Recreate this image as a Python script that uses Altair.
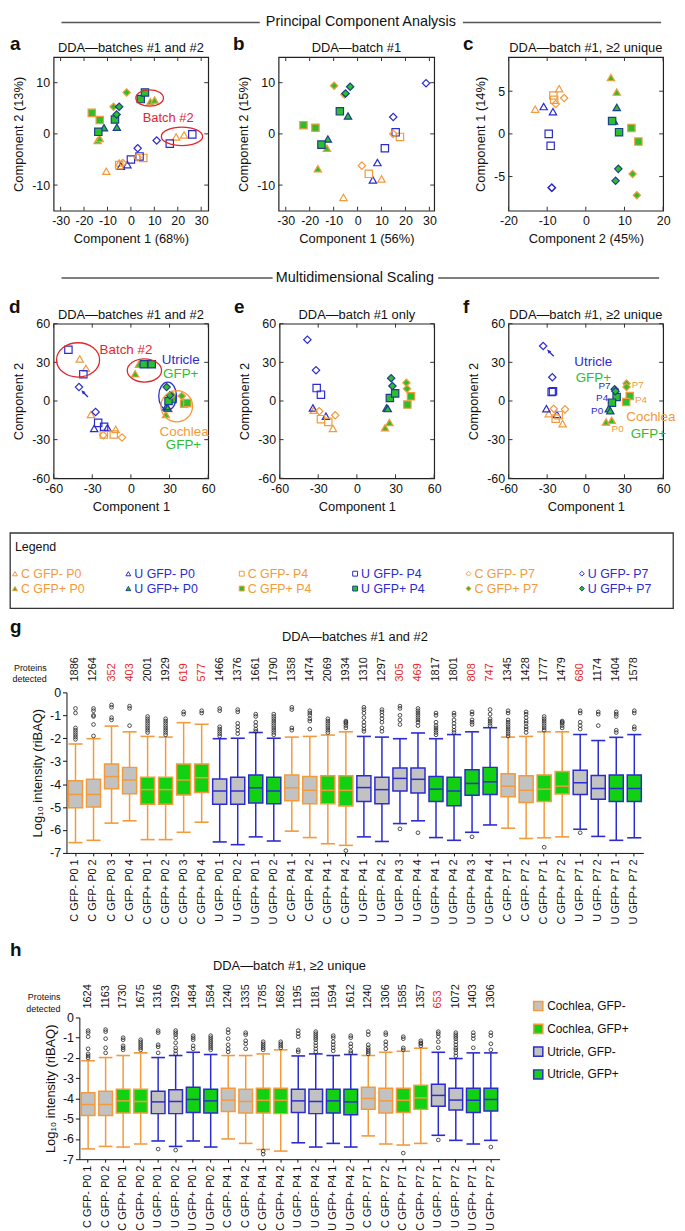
import altair as alt
import pandas as pd

FONT = "Liberation Sans"
ORANGE = "#F39A3B"
BLUE = "#2B2BCF"
NAVY = "#1D3F8F"
GREEN = "#2DBE2D"
BOXGREEN = "#12D012"
GRAY = "#C2C2C2"
RED = "#E3262C"
INK = "#111111"

# ---------------- groups (legend order) ----------------
GROUPS = ["C GFP- P0", "U GFP- P0", "C GFP- P4", "U GFP- P4", "C GFP- P7", "U GFP- P7",
          "C GFP+ P0", "U GFP+ P0", "C GFP+ P4", "U GFP+ P4", "C GFP+ P7", "U GFP+ P7"]

# ---------------- PCA / MDS scatter data (in GROUPS order) ----------------
a_counts = [4, 2, 2, 4, 2, 2, 4, 2, 2, 4, 2, 2]
a_x = [19.3, 22.7, -10.5, -5.0, -4.3, -1.5, 5.3, -5.0, 16.6, 26.2, 0.0, 3.7, 2.9, -3.5, 11.0, 2.9,
       -14.2, 8.3, 10.1, -13.3, -11.5, -6.0, -16.7, -13.3, -6.8, -13.9, 4.2, 6.0, -1.8, -7.4, -5.0, -6.1]
a_y = [-0.6, -0.2, -7.3, -5.7, -6.3, -6.0, -4.7, -6.1, -1.9, -0.1, -5.0, -4.4, -4.6, -5.7, -1.3, -2.8,
       -1.3, 6.3, 6.6, -0.9, 1.2, 1.3, 4.1, 2.7, 2.8, 0.4, 6.8, 8.1, 8.1, 5.3, 5.3, 3.8]

b_counts = [2] * 12
b_x = [10.0, -5.9, 8.3, 6.4, 17.7, 4.7, 15.9, 11.4, 14.9, 1.8, 28.6, 14.9,
       -12.8, -16.6, -4.0, -12.4, -22.6, -17.6, -7.4, -15.1, -9.8, -5.5, -3.1, -5.0]
b_y = [-8.8, -12.4, -5.6, -9.0, -0.6, -7.8, 0.3, -2.8, 0.0, -6.2, 9.9, 3.3,
       -2.8, -6.8, 3.5, -1.0, 1.7, 1.2, 4.4, -2.1, 9.4, 7.7, 9.2, 7.9]

c_counts = [2] * 12
c_x = [-13.1, -6.9, -10.9, -8.5, -8.4, -8.2, -9.6, -9.1, -5.6, -7.8, -8.8, -8.8,
       6.5, 8.0, 8.0, 7.3, 11.8, 13.6, 6.8, 8.6, 12.1, 13.2, 8.4, 7.7]
c_y = [2.9, 5.3, 3.2, 2.6, 4.5, 4.0, 0.0, -1.4, 4.2, 3.5, -6.3, -6.3,
       6.6, 4.9, 3.1, 1.5, 0.7, -0.9, 1.5, 0.2, -4.7, -7.2, -4.1, -5.5]

d_counts = [4, 2, 2, 4, 2, 2, 4, 2, 2, 4, 2, 2]
d_x = [-39.7, -34.9, -31.0, -11.8, -28.5, -18.2, -21.0, -13.3, -48.5, -36.9, -25.4, -20.8, -6.9, -21.5, -40.3, -27.4,
       6.2, 3.3, 27.2, 29.2, 27.4, 28.5, 41.3, 43.8, 10.0, 16.2, 32.3, 29.2, 39.5, 31.8, 27.7, 30.3]
d_y = [32.6, 25.4, -10.5, -22.1, -21.3, -20.8, -26.0, -26.0, 39.8, 20.8, -17.0, -20.0, -28.3, -26.5, 10.8, -8.5,
       28.5, 21.1, -10.5, -5.9, -4.6, -5.5, -2.1, -1.5, 28.5, 28.5, 1.5, 0.0, 3.9, 4.9, 10.8, 4.4]

e_counts = [2] * 12
e_x = [-33.5, -18.6, -34.1, -24.0, -27.9, -22.2, -31.2, -27.9, -29.2, -16.8, -38.4, -31.7,
       21.9, 25.3, 23.0, 24.0, 42.0, 39.2, 25.6, 29.7, 38.4, 38.9, 26.6, 27.6]
e_y = [-7.2, -21.3, -5.4, -11.8, -14.1, -16.2, 10.0, 4.9, -8.0, -11.1, 47.6, 23.9,
       -20.8, -16.7, -5.4, -5.9, 3.6, -2.8, 2.3, 5.9, 14.1, 9.5, 17.7, 11.6]

f_counts = [2] * 12
f_x = [-28.8, -18.0, -30.6, -22.4, -23.4, -21.1, -26.5, -25.5, -24.9, -16.2, -33.1, -26.0,
       15.7, 20.1, 17.8, 19.0, 34.1, 31.3, 23.9, 20.3, 31.6, 31.6, 22.4, 23.0]
f_y = [-9.8, -17.6, -6.0, -10.4, -13.7, -11.0, 7.0, 7.5, -6.0, -6.5, 42.7, 18.4,
       -16.3, -15.0, -6.0, -7.5, 3.9, -0.8, 3.1, -1.3, 13.5, 10.9, 9.1, 7.6]

# annotations (data coordinates): ellipses (cx, cy, rx, ry, colour), notes, arrows
a_ellipses = [(8.0, 7.0, 5.9, 1.6, RED), (21.8, -0.5, 8.8, 1.8, RED)]
a_notes = [(15.9, 3.1, "Batch #2", RED, 13)]
d_ellipses = [(-41.0, 31.9, 16.7, 13.3, RED), (10.5, 23.7, 13.3, 9.0, RED),
              (28.5, 3.9, 6.9, 10.8, BLUE), (35.6, -4.1, 12.3, 12.1, ORANGE)]
d_notes = [(-3.8, 39.8, "Batch #2", RED, 13.5), (38.7, 31.4, "Utricle", BLUE, 13.5),
           (38.7, 21.0, "GFP+", GREEN, 13.5), (41.3, -24.0, "Cochlea", ORANGE, 13.5),
           (40.8, -34.0, "GFP+", GREEN, 13.5)]
d_arrows = [(-35.9, 5.7)]
f_notes = [(5.8, 30.3, "Utricle", BLUE, 13.5), (5.8, 17.9, "GFP+", GREEN, 13.5),
           (14.5, 11.4, "P7", BLUE, 10), (12.7, 2.6, "P4", BLUE, 10), (8.8, -8.0, "P0", BLUE, 10),
           (40.3, 12.2, "P7", ORANGE, 10), (42.8, 1.0, "P4", ORANGE, 10), (24.7, -21.8, "P0", ORANGE, 10),
           (50.5, -12.4, "Cochlea", ORANGE, 13.5), (48.5, -25.4, "GFP+", GREEN, 13.5)]
f_arrows = [(-27.5, 37.3)]

# ---------------- box plot data: panel g ----------------
g_samples = ["C GFP- P0 1", "C GFP- P0 2", "C GFP- P0 3", "C GFP- P0 4",
             "C GFP+ P0 1", "C GFP+ P0 2", "C GFP+ P0 3", "C GFP+ P0 4",
             "U GFP- P0 1", "U GFP- P0 2", "U GFP+ P0 1", "U GFP+ P0 2",
             "C GFP- P4 1", "C GFP- P4 2", "C GFP+ P4 1", "C GFP+ P4 2",
             "U GFP- P4 1", "U GFP- P4 2", "U GFP- P4 3", "U GFP- P4 4",
             "U GFP+ P4 1", "U GFP+ P4 2", "U GFP+ P4 3", "U GFP+ P4 4",
             "C GFP- P7 1", "C GFP- P7 2", "C GFP+ P7 1", "C GFP+ P7 2",
             "U GFP- P7 1", "U GFP- P7 2", "U GFP+ P7 1", "U GFP+ P7 2"]
g_detected = [1886, 1264, 352, 403, 2001, 1929, 619, 577, 1466, 1376, 1661, 1790, 1358, 1474, 2069, 1934,
              1310, 1297, 305, 469, 1817, 1801, 808, 747, 1345, 1428, 1777, 1479, 680, 1174, 1404, 1578]
g_batch2 = [False, False, True, True, False, False, True, True, False, False, False, False, False, False, False, False,
            False, False, True, True, False, False, True, True, False, False, False, False, True, False, False, False]
g_whi = [-2.25, -2.02, -1.47, -1.72, -1.92, -1.95, -1.32, -1.39, -2.02, -2.00, -1.75, -2.00, -1.95, -1.92, -1.86, -1.72,
         -1.92, -1.95, -2.02, -1.77, -2.02, -1.84, -1.72, -1.54, -1.95, -1.92, -1.72, -1.72, -1.84, -2.10, -1.96, -1.84]
g_q3 = [-3.85, -3.79, -3.12, -3.27, -3.70, -3.70, -3.12, -3.12, -3.78, -3.70, -3.60, -3.70, -3.60, -3.67, -3.64, -3.64,
        -3.64, -3.70, -3.30, -3.30, -3.67, -3.70, -3.37, -3.27, -3.55, -3.64, -3.60, -3.45, -3.40, -3.62, -3.60, -3.60]
g_med = [-4.45, -4.45, -3.67, -3.82, -4.24, -4.24, -3.82, -3.72, -4.30, -4.30, -4.16, -4.30, -4.16, -4.27, -4.27, -4.27,
         -4.15, -4.24, -3.75, -3.79, -4.22, -4.30, -3.97, -3.90, -4.09, -4.27, -4.22, -4.09, -3.94, -4.19, -4.19, -4.19]
g_q1 = [-5.03, -5.00, -4.20, -4.42, -4.88, -4.88, -4.47, -4.37, -4.88, -4.88, -4.82, -4.86, -4.73, -4.86, -4.86, -4.95,
        -4.76, -4.86, -4.30, -4.39, -4.76, -4.94, -4.48, -4.45, -4.55, -4.80, -4.76, -4.43, -4.45, -4.66, -4.76, -4.76]
g_wlo = [-6.55, -6.45, -5.70, -5.60, -6.42, -6.42, -6.10, -5.66, -6.52, -6.64, -6.30, -6.48, -6.05, -6.33, -6.60, -6.67,
         -6.30, -6.50, -5.72, -5.60, -6.33, -6.45, -6.10, -5.78, -5.92, -6.37, -6.34, -6.30, -5.97, -6.28, -6.45, -6.34]
g_outliers = [
    [-0.7, -0.9, -1.55, -1.65, -1.75, -1.85, -1.95, -2.05], [-0.7, -0.8, -1.0, -1.05, -1.4, -1.9],
    [-0.55, -0.65, -1.1, -1.2], [-0.6, -0.7, -1.45],
    [-1.05, -1.15, -1.25, -1.35, -1.45, -1.55, -1.65, -1.75], [-1.15, -1.25, -1.35, -1.45, -1.55, -1.65, -1.75, -1.85],
    [-0.85, -0.95], [-0.8, -0.9],
    [-0.7, -0.8, -1.5, -1.6, -1.7, -1.8, -1.9], [-0.75, -0.85, -1.35, -1.5, -1.65, -1.8],
    [-0.95, -1.05, -1.3, -1.45, -1.6, -1.7], [-0.95, -1.05, -1.15, -1.25, -1.35, -1.45, -1.55, -1.65, -1.75, -1.85],
    [-0.65, -0.75, -1.55, -1.65], [-0.8, -0.9, -1.0, -1.15, -1.25, -1.6],
    [-1.15, -1.25, -1.35, -1.45, -1.55, -1.65, -1.75], [-1.25, -1.3, -1.35, -1.45, -1.55, -6.9],
    [-0.65, -0.75, -0.9, -1.1, -1.3, -1.45, -1.6, -1.7], [-0.75, -0.85, -1.0, -1.15, -1.3, -1.55, -1.7],
    [-0.6, -0.7, -1.0, -1.2, -1.4, -5.95], [-0.7, -0.8, -0.9, -1.0, -1.1, -1.2, -1.3, -1.45, -6.12],
    [-0.9, -1.0, -1.3, -1.45, -1.55, -1.65, -1.75, -1.85], [-0.9, -1.0, -1.2, -1.35, -1.5, -1.65, -1.75],
    [-0.85, -0.95, -1.2, -1.3, -1.4, -6.3], [-0.75, -0.95, -1.15, -1.25, -1.35, -1.45],
    [-0.8, -0.9, -1.2, -1.3, -1.4, -1.5, -1.6, -1.7, -1.8, -1.9], [-0.85, -0.95, -1.1, -1.25, -1.35, -1.5, -1.6, -1.75],
    [-1.05, -1.15, -1.25, -1.35, -1.45, -1.55, -1.65, -6.75], [-1.25, -1.3, -1.35, -1.45, -1.55],
    [-0.8, -0.9, -1.3, -1.45, -1.6, -6.12], [-0.85, -0.95, -1.45],
    [-0.85, -0.95, -1.05, -1.65, -1.75], [-0.8, -0.9, -1.5, -1.6],
]

# ---------------- box plot data: panel h ----------------
h_samples = ["C GFP- P0 1", "C GFP- P0 2", "C GFP+ P0 1", "C GFP+ P0 2",
             "U GFP- P0 1", "U GFP- P0 2", "U GFP+ P0 1", "U GFP+ P0 2",
             "C GFP- P4 1", "C GFP- P4 2", "C GFP+ P4 1", "C GFP+ P4 2",
             "U GFP- P4 1", "U GFP- P4 2", "U GFP+ P4 1", "U GFP+ P4 2",
             "C GFP- P7 1", "C GFP- P7 2", "C GFP+ P7 1", "C GFP+ P7 2",
             "U GFP- P7 1", "U GFP- P7 2", "U GFP+ P7 1", "U GFP+ P7 2"]
h_detected = [1624, 1163, 1730, 1675, 1316, 1929, 1484, 1584, 1240, 1335, 1785, 1682,
              1195, 1181, 1594, 1612, 1240, 1306, 1585, 1357, 653, 1072, 1403, 1306]
h_flag = [False] * 20 + [True] + [False] * 3
h_whi = [-2.14, -1.98, -1.88, -1.75, -1.98, -1.88, -1.72, -1.83, -1.88, -1.88, -1.80, -1.60,
         -1.90, -1.80, -1.88, -1.83, -1.88, -1.72, -1.67, -1.52, -1.72, -2.03, -1.75, -1.75]
h_q3 = [-3.72, -3.64, -3.55, -3.55, -3.64, -3.57, -3.45, -3.55, -3.50, -3.55, -3.50, -3.50,
        -3.55, -3.55, -3.55, -3.55, -3.45, -3.50, -3.50, -3.35, -3.30, -3.50, -3.50, -3.50]
h_med = [-4.30, -4.30, -4.12, -4.15, -4.17, -4.15, -4.05, -4.12, -4.08, -4.15, -4.09, -4.09,
         -4.12, -4.15, -4.12, -4.17, -4.00, -4.12, -4.09, -3.97, -3.85, -4.08, -4.09, -4.05]
h_q1 = [-4.84, -4.84, -4.72, -4.72, -4.75, -4.75, -4.69, -4.72, -4.65, -4.72, -4.72, -4.75,
        -4.69, -4.75, -4.72, -4.80, -4.53, -4.72, -4.69, -4.54, -4.39, -4.57, -4.69, -4.62]
h_wlo = [-6.49, -6.37, -6.40, -6.25, -6.10, -6.37, -6.10, -6.40, -6.00, -6.22, -6.52, -6.60,
         -6.19, -6.40, -6.22, -6.40, -5.85, -6.25, -6.30, -6.22, -5.82, -6.07, -6.25, -6.07]
h_outliers = [
    [-0.65, -0.75, -0.95, -1.55, -1.8, -1.9, -2.0], [-0.6, -0.7, -1.05, -1.5, -1.75],
    [-1.0, -1.1, -1.4, -1.5, -1.6], [-1.1, -1.2, -1.3, -1.4, -1.5, -1.6],
    [-0.65, -0.75, -1.35, -1.45, -1.75, -6.5], [-0.65, -0.75, -0.85, -1.0, -1.25, -1.5, -1.65, -1.8, -6.55],
    [-0.9, -1.0, -1.1, -1.4, -1.55], [-0.9, -1.0, -1.1, -1.2, -1.3, -1.4, -1.5, -1.6],
    [-0.6, -0.75, -1.05, -1.35, -1.55, -1.7], [-0.75, -0.85, -1.15, -1.3, -1.55],
    [-1.2, -1.3, -1.4, -1.5, -1.6, -6.6, -6.75], [-1.2, -1.3, -1.4, -1.5],
    [-0.65, -0.8, -0.95, -1.6, -1.7], [-0.7, -0.8, -0.9, -1.0, -1.1, -1.25, -1.4, -1.55, -1.7],
    [-0.9, -1.0, -1.2, -1.35, -1.5, -1.65], [-0.9, -1.0, -1.3, -1.45, -1.65, -1.75],
    [-0.7, -0.85, -1.35, -1.5, -1.6, -1.7, -1.8], [-0.75, -0.85, -1.2, -1.35, -1.55],
    [-0.95, -1.05, -1.5, -1.6, -6.7], [-1.15, -1.25, -1.3, -1.4],
    [-0.7, -0.8, -0.95, -1.2, -1.5, -6.05], [-0.75, -0.85, -0.95, -1.05, -1.2, -1.35, -1.5, -1.6, -1.75, -1.9],
    [-0.75, -0.9, -1.05, -1.5], [-0.75, -0.9, -1.3, -1.6, -6.4],
]
h_legend = ["Cochlea, GFP-", "Cochlea, GFP+", "Utricle, GFP-", "Utricle, GFP+"]

# ---------------- styles ----------------
SHAPE_OF = {"P0": "triangle-up", "P4": "square", "P7": "diamond"}


def marker_style(g):
    tissue, gfp, age = g.split()
    if gfp == "GFP-":
        return SHAPE_OF[age], "transparent", (ORANGE if tissue == "C" else BLUE)
    return SHAPE_OF[age], GREEN, (ORANGE if tissue == "C" else NAVY)


SHAPES = [marker_style(g)[0] for g in GROUPS]
FILLS = [marker_style(g)[1] for g in GROUPS]
STROKES = [marker_style(g)[2] for g in GROUPS]

AX = dict(ticks=False, domain=False, grid=False, labelFontSize=12.5, titleFontSize=13,
          labelPadding=4, titlePadding=6, titleFontWeight="normal", labelColor=INK,
          titleColor=INK, labelFlush=False, labelOverlap=False, labelExpr="'' + datum.value")


def indep(c):
    return c.resolve_scale(fill="independent", stroke="independent", shape="independent",
                           color="independent")


def ellipse_path(ax, ay):
    k = 0.5523
    return (f"M{-ax:.4f},0 C{-ax:.4f},{-k*ay:.4f} {-k*ax:.4f},{-ay:.4f} 0,{-ay:.4f} "
            f"C{k*ax:.4f},{-ay:.4f} {ax:.4f},{-k*ay:.4f} {ax:.4f},0 "
            f"C{ax:.4f},{k*ay:.4f} {k*ax:.4f},{ay:.4f} 0,{ay:.4f} "
            f"C{-k*ax:.4f},{ay:.4f} {-ax:.4f},{k*ay:.4f} {-ax:.4f},0 Z")


def spacer(w, h, top=0, bottom=0):
    """Invisible cell; its hidden rule fixes how far the row reaches above/below the plots."""
    return alt.Chart(pd.DataFrame({"z": [0]})).mark_rule(opacity=0, strokeWidth=0.5).encode(
        x=alt.value(0), y=alt.value(-top), y2=alt.value(h + bottom)).properties(width=w, height=h)


def scatter_panel(xs, ys, counts, xdom, ydom, xticks, yticks, xtitle, ytitle, title, letter,
                  w, h, letter_dx, letter_dy, ellipses=(), notes=(), arrows=()):
    groups = [g for g, c in zip(GROUPS, counts) for _ in range(c)]
    df = pd.DataFrame({"x": xs, "y": ys, "g": groups})
    X = alt.X("x:Q", scale=alt.Scale(domain=xdom, nice=False, zero=False),
              axis=alt.Axis(values=xticks, title=xtitle, **AX))
    Y = alt.Y("y:Q", scale=alt.Scale(domain=ydom, nice=False, zero=False),
              axis=alt.Axis(values=yticks, title=ytitle, **AX))
    L = 4
    tx = pd.DataFrame({"x": xticks})
    ty = pd.DataFrame({"y": yticks})
    tk = dict(color="#333333", strokeWidth=1)
    layers = [
        alt.Chart(tx).mark_rule(**tk).encode(x=X, y=alt.value(h), y2=alt.value(h - L)),
        alt.Chart(tx).mark_rule(**tk).encode(x=X, y=alt.value(0), y2=alt.value(L)),
        alt.Chart(ty).mark_rule(**tk).encode(y=Y, x=alt.value(0), x2=alt.value(L)),
        alt.Chart(ty).mark_rule(**tk).encode(y=Y, x=alt.value(w), x2=alt.value(w - L)),
    ]
    layers.append(alt.Chart(df).mark_point(filled=True, opacity=1, size=55, strokeWidth=1.2).encode(
        x=X, y=Y,
        shape=alt.Shape("g:N", scale=alt.Scale(domain=GROUPS, range=SHAPES), legend=None),
        fill=alt.Fill("g:N", scale=alt.Scale(domain=GROUPS, range=FILLS), legend=None),
        stroke=alt.Stroke("g:N", scale=alt.Scale(domain=GROUPS, range=STROKES), legend=None)))
    for (cx, cy, rxu, ryu, col) in ellipses:
        rx = rxu * w / (xdom[1] - xdom[0])
        ry = ryu * h / (ydom[1] - ydom[0])
        m = max(rx, ry)
        layers.append(alt.Chart(pd.DataFrame({"x": [cx], "y": [cy]})).mark_point(
            shape=ellipse_path(rx / m, ry / m), size=(2 * m) ** 2, filled=False, opacity=1,
            stroke=col, strokeWidth=1.3).encode(x=X, y=Y))
    for (nx, ny, txt, col, fs) in notes:
        layers.append(alt.Chart(pd.DataFrame({"x": [nx], "y": [ny]})).mark_text(
            text=txt, color=col, fontSize=fs, baseline="middle").encode(x=X, y=Y))
    for (ax_, ay_) in arrows:
        layers.append(alt.Chart(pd.DataFrame({"x": [ax_], "y": [ay_]})).mark_point(
            shape="arrow", angle=315, size=90, filled=True, opacity=1, color=BLUE).encode(x=X, y=Y))
    layers.append(alt.Chart(pd.DataFrame({"t": [letter]})).mark_text(
        fontSize=19, fontWeight="bold", color=INK, align="left", baseline="middle").encode(
        x=alt.value(letter_dx), y=alt.value(letter_dy), text="t:N"))
    layers.append(alt.Chart(pd.DataFrame({"t": [title]})).mark_text(
        fontSize=13, color=INK, baseline="middle").encode(
        x=alt.value(w / 2), y=alt.value(-9), text="t:N"))
    return alt.layer(*layers).properties(
        width=w, height=h, view=alt.ViewBackground(stroke="#222222", strokeWidth=1.2))


def header(text, w, h, cy, cx, seg1, seg2):
    d = pd.DataFrame({"t": [text]})
    return alt.layer(
        alt.Chart(d).mark_text(fontSize=14.5, color=INK, baseline="middle").encode(
            x=alt.value(cx), y=alt.value(cy), text="t:N"),
        alt.Chart(d).mark_rule(color="#555555", strokeWidth=1.5).encode(
            x=alt.value(seg1[0]), x2=alt.value(seg1[1]), y=alt.value(cy)),
        alt.Chart(d).mark_rule(color="#555555", strokeWidth=1.5).encode(
            x=alt.value(seg2[0]), x2=alt.value(seg2[1]), y=alt.value(cy)),
    ).properties(width=w, height=h)


def box_panel(samples, detected, flagged, whi, q3, med, q1, wlo, outliers, width, height,
              title, letter, letter_dx, letter_dy, title_dy, prot_dy, num_dy, prot_dx):
    df = pd.DataFrame({"s": samples, "whi": whi, "q3": q3, "med": med, "q1": q1, "wlo": wlo,
                       "n": [str(v) for v in detected], "hl": ["yes" if f else "no" for f in flagged]})
    df["tissue"] = df["s"].str[0]
    df["gfp"] = ["pos" if "GFP+" in s else "neg" for s in samples]
    odf = pd.DataFrame([(s, v) for s, vals in zip(samples, outliers) for v in vals], columns=["s", "v"])
    band = width / len(samples)
    bw = band * 0.78
    X = alt.X("s:N", sort=samples, scale=alt.Scale(paddingInner=0, paddingOuter=0),
              axis=alt.Axis(title=None, labelAngle=-90, labelFontSize=11, labelPadding=3, tickSize=3,
                            domainColor=INK, tickColor=INK, labelColor=INK, grid=False))
    yaxis = alt.Axis(values=[0, -1, -2, -3, -4, -5, -6, -7], title="Log₁₀ intensity (riBAQ)",
                     tickSize=4, domainColor=INK, tickColor=INK, labelColor=INK, titleColor=INK,
                     labelFontSize=12.5, titleFontSize=13, titleFontWeight="normal", labelPadding=2,
                     titlePadding=5, grid=False, labelExpr="'' + datum.value")
    ysc = alt.Scale(domain=[-7, 0], nice=False, zero=False)

    def Yf(f):
        return alt.Y(f"{f}:Q", scale=ysc, axis=yaxis)

    tcol = alt.Color("tissue:N", scale=alt.Scale(domain=["C", "U"], range=[ORANGE, BLUE]), legend=None)
    base = alt.Chart(df)
    layers = [
        base.mark_rule(strokeWidth=1.5).encode(x=X, y=Yf("whi"), y2="q3:Q", color=tcol),
        base.mark_rule(strokeWidth=1.5).encode(x=X, y=Yf("q1"), y2="wlo:Q", color=tcol),
        base.mark_tick(size=bw, thickness=1.6, opacity=1).encode(x=X, y=Yf("whi"), color=tcol),
        base.mark_tick(size=bw, thickness=1.6, opacity=1).encode(x=X, y=Yf("wlo"), color=tcol),
        base.mark_bar(width=alt.RelativeBandSize(0.78), strokeWidth=1.5, opacity=1).encode(
            x=X, y=Yf("q3"), y2="q1:Q",
            fill=alt.Fill("gfp:N", scale=alt.Scale(domain=["neg", "pos"], range=[GRAY, BOXGREEN]), legend=None),
            stroke=alt.Stroke("tissue:N", scale=alt.Scale(domain=["C", "U"], range=[ORANGE, BLUE]), legend=None)),
        base.mark_tick(size=bw, thickness=1.5, opacity=1).encode(x=X, y=Yf("med"), color=tcol),
        alt.Chart(odf).mark_point(shape="circle", size=14, filled=False, opacity=1, stroke="#222222",
                                  strokeWidth=0.8).encode(x=X, y=Yf("v")),
        base.mark_text(angle=270, align="left", baseline="middle", fontSize=11).encode(
            x=X, y=alt.value(num_dy), text="n:N",
            color=alt.condition("datum.hl == 'yes'", alt.value(RED), alt.value(INK))),
    ]
    one = pd.DataFrame({"t": [title]})
    layers.append(alt.Chart(one).mark_text(fontSize=13, color=INK, baseline="middle").encode(
        x=alt.value(width / 2), y=alt.value(title_dy), text="t:N"))
    layers.append(alt.Chart(one).mark_text(text=["Proteins", "detected"], fontSize=9, lineHeight=12,
                                           align="right", baseline="middle", color=INK).encode(
        x=alt.value(prot_dx), y=alt.value(prot_dy)))
    layers.append(alt.Chart(pd.DataFrame({"t": [letter]})).mark_text(
        fontSize=19, fontWeight="bold", color=INK, align="left", baseline="middle").encode(
        x=alt.value(letter_dx), y=alt.value(letter_dy), text="t:N"))
    return alt.layer(*layers).properties(width=width, height=height)


# ---------------- panels ----------------
W = 156
pa = scatter_panel(a_x, a_y, a_counts, [-33, 33], [-15, 15], [-30, -20, -10, 0, 10, 20, 30], [10, 0, -10],
                   "Component 1 (68%)", "Component 2 (13%)", "DDA—batches #1 and #2", "a", W, 155, -44, -13,
                   ellipses=a_ellipses, notes=a_notes)
pb = scatter_panel(b_x, b_y, b_counts, [-33, 32], [-15, 15], [-30, -20, -10, 0, 10, 20, 30], [10, 0, -10],
                   "Component 1 (56%)", "Component 2 (15%)", "DDA—batch #1", "b", 157, 155, -46, -13)
pc = scatter_panel(c_x, c_y, c_counts, [-20, 20], [-9, 9], [-20, -10, 0, 10, 20], [5, 0, -5],
                   "Component 2 (45%)", "Component 1 (14%)", "DDA—batch #1, ≥2 unique", "c", W, 155, -46, -13)
MT = [-60, -30, 0, 30, 60]
pd_ = scatter_panel(d_x, d_y, d_counts, [-60, 60], [-60, 60], MT, MT, "Component 1", "Component 2",
                    "DDA—batches #1 and #2", "d", W, 156, -45, -17,
                    ellipses=d_ellipses, notes=d_notes, arrows=d_arrows)
pe = scatter_panel(e_x, e_y, e_counts, [-60, 60], [-60, 60], MT, MT, "Component 1", "Component 2",
                   "DDA—batch #1 only", "e", W, 156, -46, -17)
pf = scatter_panel(f_x, f_y, f_counts, [-60, 60], [-60, 60], MT, MT, "Component 1", "Component 2",
                   "DDA—batch #1, ≥2 unique", "f", W, 156, -46, -17, notes=f_notes, arrows=f_arrows)

# legend box
leg_order = ["C GFP- P0", "C GFP+ P0", "U GFP- P0", "U GFP+ P0", "C GFP- P4", "C GFP+ P4",
             "U GFP- P4", "U GFP+ P4", "C GFP- P7", "C GFP+ P7", "U GFP- P7", "U GFP+ P7"]
ldf = pd.DataFrame({"g": leg_order, "col": [i // 2 for i in range(12)], "row": [i % 2 for i in range(12)]})
ldf["tissue"] = ldf["g"].str[0]
LW, LH = 669, 76
LX = alt.X("col:Q", scale=alt.Scale(domain=[-0.044, -0.044 + LW / 114.4], nice=False, zero=False), axis=None)
LY = alt.Y("row:Q", scale=alt.Scale(domain=[-2.75, 2.317], reverse=True, nice=False, zero=False), axis=None)
legend_box = alt.layer(
    alt.Chart(ldf).mark_point(filled=True, opacity=1, size=24, strokeWidth=1).encode(
        x=LX, y=LY,
        shape=alt.Shape("g:N", scale=alt.Scale(domain=GROUPS, range=SHAPES), legend=None),
        fill=alt.Fill("g:N", scale=alt.Scale(domain=GROUPS, range=FILLS), legend=None),
        stroke=alt.Stroke("g:N", scale=alt.Scale(domain=GROUPS, range=STROKES), legend=None)),
    alt.Chart(ldf).mark_text(align="left", baseline="middle", dx=6, fontSize=12.5).encode(
        x=LX, y=LY, text="g:N",
        color=alt.Color("tissue:N", scale=alt.Scale(domain=["C", "U"], range=[ORANGE, BLUE]), legend=None)),
    alt.Chart(pd.DataFrame({"t": ["Legend"]})).mark_text(align="left", baseline="middle", fontSize=12.5,
                                                         color=INK).encode(
        x=alt.value(5), y=alt.value(14), text="t:N"),
    alt.Chart(pd.DataFrame({"z": [0]})).mark_rule(opacity=0, strokeWidth=0.5).encode(
        x=alt.value(0), y=alt.value(-12), y2=alt.value(LH + 4)),
).properties(width=LW, height=LH, view=alt.ViewBackground(stroke="#333333", strokeWidth=1.3))

pg = box_panel(g_samples, g_detected, g_batch2, g_whi, g_q3, g_med, g_q1, g_wlo, g_outliers,
               582, 162, "DDA—batches #1 and #2", "g", -57, -66, -56, -25, -11, -20)
ph = box_panel(h_samples, h_detected, h_flag, h_whi, h_q3, h_med, h_q1, h_wlo, h_outliers,
               424, 143, "DDA—batch #1, ≥2 unique", "h", -70, -68, -52, -21, -9, -19)

hl = pd.DataFrame({"label": h_legend})
hl["tissue"] = [s[0] for s in h_legend]
hl["gfp"] = ["pos" if s.endswith("+") else "neg" for s in h_legend]
HLY = alt.Y("label:N", sort=h_legend, axis=None, scale=alt.Scale(type="point", padding=0.5))
h_leg = alt.layer(
    alt.Chart(hl).mark_square(size=85, opacity=1, strokeWidth=1.5, yOffset=-23).encode(
        y=HLY, x=alt.value(6),
        fill=alt.Fill("gfp:N", scale=alt.Scale(domain=["neg", "pos"], range=[GRAY, BOXGREEN]), legend=None),
        stroke=alt.Stroke("tissue:N", scale=alt.Scale(domain=["C", "U"], range=[ORANGE, BLUE]), legend=None)),
    alt.Chart(hl).mark_text(align="left", baseline="middle", fontSize=12, color=INK, yOffset=-23).encode(
        y=HLY, x=alt.value(15), text="label:N"),
).properties(width=140, height=92)

FL = "flush"
# row slots (reference pixels, row x-origin = ref x 8)
chart = indep(alt.vconcat(
    header("Principal Component Analysis", 659, 16, 5, 354, (52, 252), (457, 657)),
    indep(alt.hconcat(spacer(44, 155, 22, 48), pa, spacer(71, 155), pb, spacer(75, 155), pc,
                      spacing=0, bounds=FL)),
    header("Multidimensional Scaling", 659, 34, 18, 348, (52, 265), (432, 655)),
    indep(alt.hconcat(spacer(44, 156, 28, 41), pd_, spacer(72, 156), pe, spacer(75, 156), pf,
                      spacing=0, bounds=FL)),
    legend_box,
    indep(alt.hconcat(spacer(57, 162, 79, 79), pg, spacing=0, bounds=FL)),
    indep(alt.hconcat(spacer(70, 143, 85, 71), ph, spacer(33, 143), h_leg, spacing=0, bounds=FL)),
    spacing=0,
)).properties(padding={"left": 0, "top": 0, "right": 0, "bottom": 0}).configure(
    font=FONT).configure_view(stroke="transparent").configure_axis(grid=False)

chart.save("out.html", embed_options={"renderer": "svg", "actions": False})
